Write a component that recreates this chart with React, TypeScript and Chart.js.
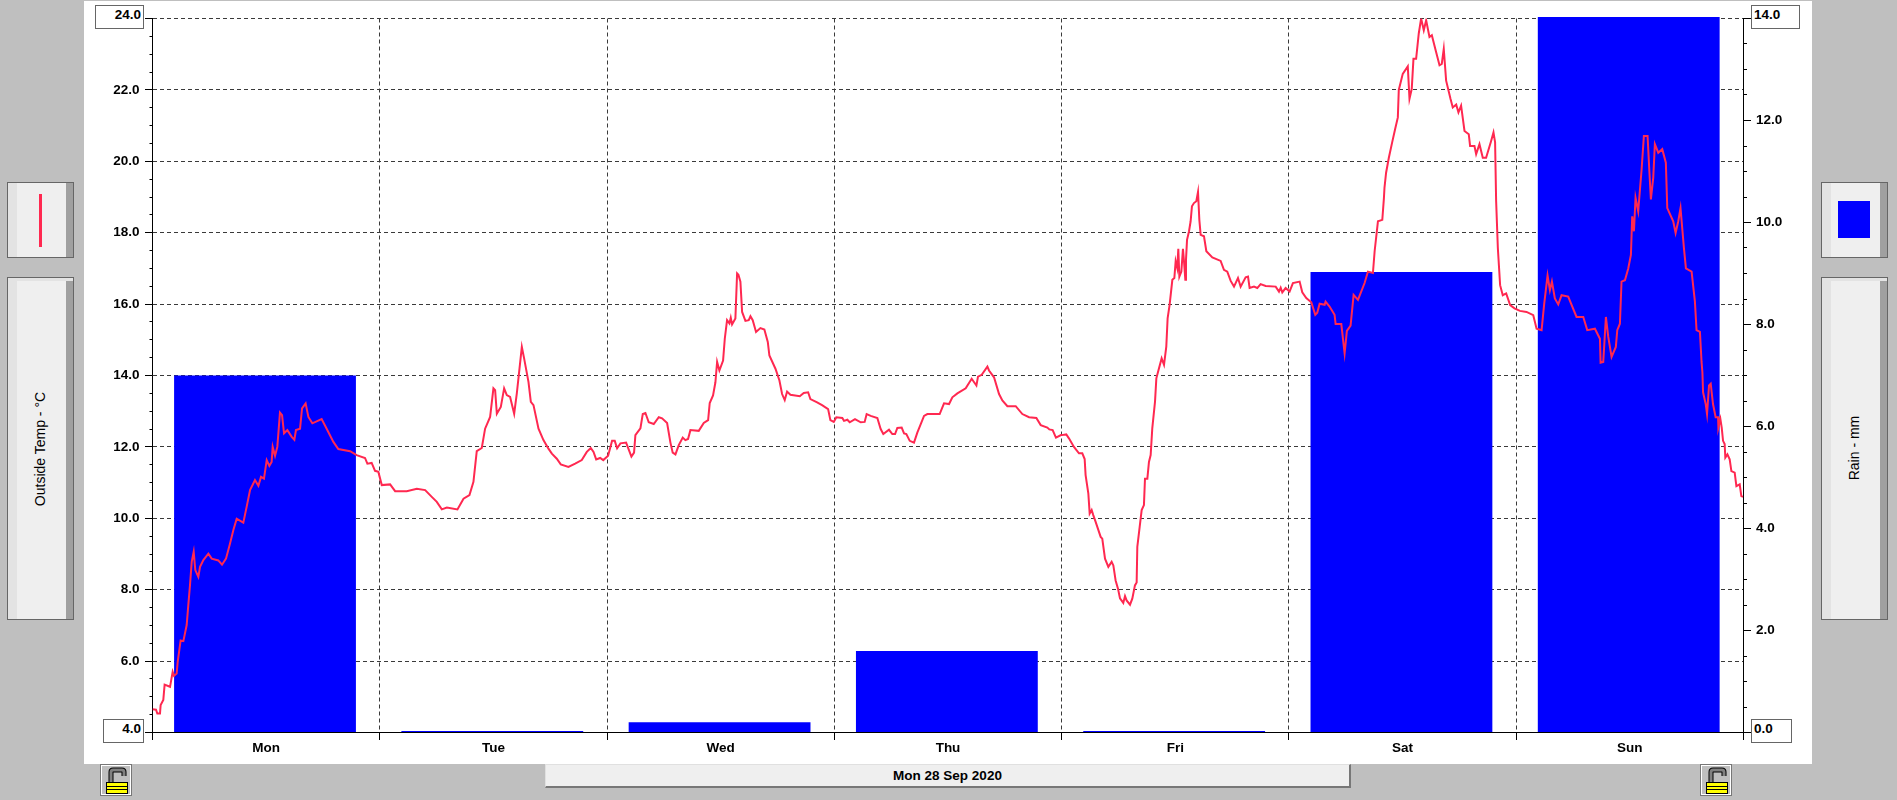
import React, { useEffect, useRef } from "react";
import { Chart, registerables } from "chart.js";

Chart.register(...registerables);

const dayLabels = ["Mon", "Tue", "Wed", "Thu", "Fri", "Sat", "Sun"];
const dateLabel = "Mon 28 Sep 2020";
const tempAxisTitle = "Outside Temp - °C";
const rainAxisTitle = "Rain - mm";

const tempMin = 4;
const tempMax = 24;
const rainMin = 0;
const rainMax = 14;

// Rain total per day, mm, and where each day's bar sits (in days from Monday 00:00)
const rainDaily = [7.0, 0.03, 0.2, 1.6, 0.03, 9.03, 14.03];
const rainDayPositions = [0.495, 1.495, 2.495, 3.495, 4.495, 5.495, 6.495];

// Outside temperature per day: [hour of day, °C]
const monTemp = [[0,4.65],[.37,4.64],[.51,4.53],[.79,4.53],[.86,4.77],[1.14,4.91],[1.28,5.34],[1.85,5.28],[2.13,5.7],[2.27,5.59],[2.55,5.65],[2.66,5.98],[2.97,6.58],[3.26,6.56],[3.61,7.01],[3.78,7.57],[3.96,8.13],[4.14,8.78],[4.35,9.06],[4.52,8.55],[4.84,8.36],[5.02,8.64],[5.37,8.83],[5.9,9.01],[6.25,8.87],[6.95,8.82],[7.34,8.7],[7.76,8.87],[8.18,9.29],[8.54,9.67],[8.89,9.99],[9.59,9.88],[9.94,10.32],[10.3,10.79],[10.82,11.07],[11.18,10.91],[11.46,11.16],[11.77,11.11],[12.06,11.63],[12.34,11.47],[12.58,11.58],[12.69,12.0],[12.94,11.75],[13.18,12.0],[13.46,12.96],[13.68,12.89],[13.89,12.38],[14.24,12.47],[14.7,12.28],[14.98,12.2],[15.15,12.47],[15.58,12.51],[15.79,13.08],[16.17,13.22],[16.46,12.84],[16.88,12.66],[17.86,12.78],[18.39,12.51],[19.1,12.14],[19.62,11.94],[20.86,11.88],[21.56,11.77],[22.44,11.69],[22.69,11.53],[23.14,11.55],[23.5,11.33],[23.85,11.3]];
const tueTemp = [[.21,10.93],[1.09,10.95],[1.62,10.76],[2.85,10.76],[3.91,10.83],[4.79,10.79],[5.49,10.6],[6.02,10.46],[6.55,10.25],[7.08,10.3],[8.2,10.25],[8.84,10.55],[9.47,10.65],[9.89,11.02],[10.24,11.88],[10.77,11.97],[11.12,12.51],[11.65,12.84],[12.0,13.64],[12.18,13.59],[12.36,12.93],[12.78,13.12],[13.13,13.64],[13.41,13.45],[13.76,13.4],[14.19,12.93],[14.47,13.5],[15.0,14.8],[15.24,14.48],[15.7,13.82],[15.95,13.26],[16.23,13.17],[16.76,12.51],[17.28,12.19],[17.81,11.95],[18.17,11.81],[18.69,11.67],[19.11,11.51],[19.92,11.44],[20.63,11.53],[21.33,11.63],[21.86,11.86],[22.28,11.97],[22.57,11.86],[22.85,11.65],[23.27,11.69],[23.6,11.63]];
const wedTemp = [[.11,11.75],[.53,12.17],[.81,12.17],[1.06,11.96],[1.41,12.1],[2.01,12.12],[2.57,11.73],[2.85,11.84],[2.99,12.33],[3.52,12.52],[3.77,12.92],[4.05,12.95],[4.4,12.69],[4.93,12.64],[5.46,12.83],[5.81,12.8],[6.34,12.67],[6.69,12.12],[6.93,11.84],[7.22,11.79],[7.57,12.05],[7.99,12.26],[8.27,12.19],[8.55,12.22],[8.8,12.47],[9.68,12.45],[10.21,12.67],[10.67,12.75],[10.84,13.23],[11.19,13.44],[11.44,13.81],[11.62,14.38],[11.86,14.14],[12.25,14.42],[12.43,15.03],[12.67,15.55],[12.92,15.46],[13.06,15.62],[13.2,15.43],[13.55,15.6],[13.73,16.86],[13.87,16.82],[14.08,16.63],[14.26,15.78],[14.61,15.53],[14.96,15.55],[15.14,15.66],[15.38,15.55],[15.73,15.22],[16.19,15.33],[16.61,15.29],[16.97,14.94],[17.14,14.56],[17.78,14.19],[18.2,13.86],[18.48,13.48],[18.76,13.31],[19.01,13.55],[19.36,13.46],[20.35,13.42],[20.77,13.51],[21.23,13.53],[21.47,13.34],[22.18,13.25],[22.7,13.17],[23.34,13.06],[23.58,12.75],[23.94,12.7]];
const thuTemp = [[.21,12.83],[.84,12.81],[1.02,12.73],[1.37,12.76],[1.62,12.69],[2.18,12.78],[2.78,12.69],[3.2,12.7],[3.41,12.92],[3.84,12.87],[4.54,12.81],[4.89,12.5],[5.17,12.36],[5.77,12.48],[6.12,12.36],[6.41,12.36],[6.65,12.53],[7.11,12.54],[7.36,12.38],[7.6,12.36],[7.96,12.17],[8.41,12.12],[8.76,12.4],[9.47,12.87],[9.82,12.92],[11.12,12.92],[11.58,13.22],[12.11,13.2],[12.46,13.39],[12.99,13.5],[13.87,13.64],[14.5,13.91],[15.0,13.72],[15.17,13.97],[15.56,14.02],[16.16,14.25],[16.33,14.14],[16.86,13.95],[17.39,13.48],[17.74,13.3],[18.27,13.14],[19.15,13.14],[19.85,12.92],[20.56,12.83],[21.33,12.81],[21.79,12.61],[22.49,12.54],[22.7,12.49],[23.05,12.47],[23.4,12.26],[23.93,12.33]];
const friTemp = [[0,12.33],[.49,12.35],[.77,12.24],[1.3,12.0],[1.83,11.82],[2.18,11.82],[2.43,11.66],[2.53,11.21],[2.82,10.69],[2.96,10.13],[3.17,10.23],[3.34,10.09],[3.59,9.9],[4.12,9.48],[4.29,9.43],[4.58,8.87],[4.93,8.64],[5.28,8.78],[5.46,8.68],[5.7,8.26],[5.95,8.03],[6.16,7.76],[6.51,7.63],[6.69,7.82],[6.86,7.7],[7.22,7.58],[7.46,7.75],[7.74,8.12],[7.92,8.2],[7.99,9.2],[8.24,9.76],[8.45,10.23],[8.69,10.37],[8.8,11.11],[9.05,11.11],[9.22,11.58],[9.4,11.77],[9.57,12.52],[9.86,13.27],[10.0,13.92],[10.28,14.2],[10.56,14.48],[10.81,14.3],[11.05,14.81],[11.19,15.6],[11.4,15.98],[11.69,16.68],[11.9,16.73],[12.04,17.2],[12.21,17.01],[12.32,17.55],[12.43,16.77],[12.64,16.91],[12.81,17.55],[12.92,17.2],[13.06,16.68],[13.13,17.24],[13.24,17.8],[13.45,18.04],[13.62,18.32],[13.76,18.74],[13.97,18.83],[14.22,18.88],[14.4,19.14],[14.54,18.36],[14.68,17.94],[15.03,17.9],[15.28,17.48],[15.91,17.31],[16.79,17.21],[17.14,16.96],[17.49,16.91],[17.85,16.65],[18.2,16.49],[18.62,16.73],[18.9,16.49],[19.43,16.75],[19.68,16.77],[19.85,16.45],[20.31,16.49],[20.66,16.45],[21.01,16.56],[21.54,16.51],[22.6,16.49],[22.95,16.35],[23.13,16.46],[23.3,16.33],[23.65,16.45]];
const satTemp = [[.07,16.35],[.42,16.59],[1.13,16.63],[1.41,16.33],[1.83,16.17],[2.36,16.05],[2.78,15.7],[2.99,15.76],[3.24,16.01],[3.77,15.98],[3.87,16.07],[4.29,15.93],[4.82,15.7],[4.93,15.44],[5.53,15.44],[5.88,14.62],[6.12,15.25],[6.51,15.4],[6.83,16.26],[7.29,16.12],[7.57,16.31],[7.99,16.59],[8.34,16.91],[8.87,16.87],[9.05,17.48],[9.4,18.32],[9.86,18.36],[10.03,18.97],[10.09,19.26],[10.26,19.68],[10.55,20.1],[10.9,20.53],[11.21,20.9],[11.5,21.23],[11.6,22.0],[12.02,22.45],[12.55,22.66],[12.73,21.75],[12.97,22.03],[13.15,22.87],[13.43,22.87],[13.71,23.58],[13.96,24.0],[14.24,23.67],[14.49,23.95],[14.84,23.48],[15.09,23.53],[15.54,23.06],[15.9,22.69],[16.14,22.73],[16.35,23.15],[16.6,22.26],[17.06,21.75],[17.3,21.51],[17.66,21.59],[17.9,21.37],[18.18,21.56],[18.54,20.85],[18.99,20.76],[19.13,20.43],[19.59,20.43],[19.77,20.2],[20.12,20.48],[20.47,20.1],[20.82,20.1],[21.35,20.57],[21.6,20.81],[21.77,20.53],[21.88,18.88],[22.06,17.57],[22.3,16.53],[22.58,16.25],[22.94,16.3],[23.36,15.97],[23.82,15.88]];
const sunTemp = [[.39,15.81],[1.09,15.78],[1.8,15.69],[2.15,15.31],[2.68,15.27],[2.96,16.02],[3.31,16.8],[3.56,16.39],[3.77,16.63],[4.08,16.16],[4.44,15.99],[4.79,16.25],[5.49,16.21],[6.37,15.64],[7.08,15.64],[7.5,15.27],[8.31,15.31],[8.84,15.03],[8.91,14.36],[9.19,14.38],[9.47,15.64],[9.72,15.08],[10.07,14.52],[10.52,14.8],[10.67,15.27],[10.95,15.45],[11.12,16.63],[11.48,16.67],[11.83,17.0],[12.11,17.38],[12.25,18.46],[12.43,18.04],[12.6,18.98],[12.88,18.6],[13.24,19.77],[13.48,20.71],[13.87,20.71],[14.04,19.82],[14.22,18.93],[14.47,19.54],[14.64,20.48],[15.0,20.24],[15.42,20.34],[15.8,19.96],[15.95,18.69],[16.58,18.32],[16.83,17.99],[17.11,18.32],[17.35,18.69],[17.71,17.57],[17.92,17.0],[18.52,16.91],[18.87,16.07],[19.04,15.27],[19.4,15.22],[19.57,14.38],[19.66,14.09],[19.73,13.53],[20.01,13.2],[20.15,12.92],[20.36,13.72],[20.54,13.77],[20.64,13.53],[20.78,13.2],[21.06,12.83],[21.31,12.83],[21.35,12.54],[21.56,12.78],[21.7,12.54],[21.84,12.17],[22.01,12.08],[22.08,11.7],[22.3,11.79],[22.54,11.65],[22.72,11.32],[23.07,11.28],[23.25,10.9],[23.6,10.95],[23.77,10.62],[23.95,10.6]];

const weekTemps = [monTemp, tueTemp, wedTemp, thuTemp, friTemp, satTemp, sunTemp];

const TICK_FONT = { family: '"Liberation Sans", Arial, sans-serif', size: 13.5, weight: "bold" as const };
const RED = "#FF2850";
const BLUE = "#0000FF";
const GRID = "#3a3a3a";
const NONE = "rgba(0,0,0,0)";

const isEven = (v: number) => Math.abs(v % 2) < 1e-6;
const isWhole = (v: number) => Math.abs(v % 1) < 1e-6;

const clearPadding = (s: any) => {
  s.paddingTop = 0;
  s.paddingBottom = 0;
  s.paddingLeft = 0;
  s.paddingRight = 0;
};

const tickMarks = {
  id: "tickMarks",
  afterDraw(chart: any) {
    const { ctx, chartArea: a, scales } = chart;
    ctx.save();
    ctx.strokeStyle = "#000";
    ctx.lineWidth = 1;
    ctx.beginPath();
    for (const t of scales.y.ticks) {
      const p = Math.round(scales.y.getPixelForValue(t.value) - 0.5) + 0.5;
      ctx.moveTo(a.left, p);
      ctx.lineTo(a.left - (isEven(t.value) ? 7.5 : 3), p);
    }
    for (const t of scales.y2.ticks) {
      const p = Math.round(scales.y2.getPixelForValue(t.value) - 0.5) + 0.5;
      ctx.moveTo(a.right, p);
      ctx.lineTo(a.right + (isEven(t.value) ? 7.5 : 3.5), p);
    }
    for (const t of scales.x.ticks) {
      if (!isWhole(t.value)) continue;
      const p = Math.round(scales.x.getPixelForValue(t.value) - 0.5) + 0.5;
      ctx.moveTo(p, a.bottom);
      ctx.lineTo(p, a.bottom + 7.5);
    }
    ctx.stroke();
    ctx.restore();
  },
};

const Panel = ({ left, top, width, height, bands = true, children }: any) => (
  <div
    style={{
      position: "absolute",
      left,
      top,
      width,
      height,
      boxSizing: "border-box",
      border: "1px solid #666",
      background: "#EFEFEF",
      overflow: "hidden",
    }}
  >
    {bands && <div style={{ position: "absolute", left: 0, right: 0, top: 0, height: 3, background: "#E3E3E3" }} />}
    <div style={{ position: "absolute", left: 0, top: 0, bottom: 0, width: 9, background: "#E3E3E3" }} />
    <div style={{ position: "absolute", right: 0, top: bands ? 3 : 0, bottom: 0, width: 7, background: "#A0A0A0" }} />
    {children}
  </div>
);

const VerticalText = ({ cx, cy, text }: any) => (
  <div
    style={{
      position: "absolute",
      left: cx,
      top: cy,
      transform: "translate(-50%,-50%) rotate(-90deg)",
      font: '14px "Liberation Sans", Arial, sans-serif',
      color: "#000",
      whiteSpace: "nowrap",
    }}
  >
    {text}
  </div>
);

const ValueBox = ({ left, top, width, height, align, text }: any) => (
  <div
    style={{
      position: "absolute",
      left,
      top,
      width,
      height,
      boxSizing: "border-box",
      border: "1px solid #666",
      background: "#fff",
      font: 'bold 13.5px "Liberation Sans", Arial, sans-serif',
      color: "#000",
      lineHeight: "18px",
      textAlign: align,
      padding: "0 2px",
    }}
  >
    {text}
  </div>
);

const Lock = ({ left }: any) => (
  <svg
    width={32}
    height={32}
    viewBox="0 0 32 32"
    style={{ position: "absolute", left, top: 764 }}
    shapeRendering="crispEdges"
  >
    <rect x={0.5} y={0.5} width={31} height={31} fill="#BFBFBF" stroke="#777" />
    <rect x={1.5} y={1.5} width={29} height={29} fill="none" stroke="#fff" />
    <path d="M11 18 V8 Q11 6 13 6 H22 Q24 6 24 8 V12" fill="none" stroke="#000" strokeWidth={5} shapeRendering="auto" />
    <path d="M11 18 V8 Q11 6 13 6 H22 Q24 6 24 8 V12" fill="none" stroke="#808080" strokeWidth={3} shapeRendering="auto" />
    <rect x={6.5} y={18.5} width={21} height={11} fill="#FFFF00" stroke="#000" />
    <rect x={7} y={22} width={20} height={1} fill="#000" />
    <rect x={7} y={25} width={20} height={1} fill="#000" />
  </svg>
);

export default function App() {
  const ref = useRef<HTMLCanvasElement>(null);

  useEffect(() => {
    const tempPoints = weekTemps.flatMap((day, i) => day.map(([h, t]) => ({ x: i + h / 24, y: t })));
    const rainBars = rainDaily.map((v, i) => ({ x: rainDayPositions[i], y: v }));

    const chart = new Chart(ref.current as HTMLCanvasElement, {
      type: "bar",
      data: {
        datasets: [
          {
            type: "line",
            label: tempAxisTitle,
            data: tempPoints,
            yAxisID: "y",
            xAxisID: "x",
            borderColor: RED,
            borderWidth: 2,
            pointRadius: 0,
            tension: 0,
            order: 1,
          },
          {
            type: "bar",
            label: rainAxisTitle,
            data: rainBars,
            yAxisID: "y2",
            xAxisID: "x",
            backgroundColor: BLUE,
            borderWidth: 0,
            barPercentage: 1.6,
            categoryPercentage: 1,
            clip: false,
            order: 2,
          },
        ] as any,
      },
      options: {
        animation: false,
        responsive: false,
        devicePixelRatio: 1,
        events: [],
        layout: { autoPadding: false, padding: { top: 18.5, left: 0, right: 0, bottom: 0 } },
        plugins: { legend: { display: false }, tooltip: { enabled: false } },
        scales: {
          x: {
            type: "linear",
            offset: false,
            min: 0,
            max: 7,
            afterFit(s: any) {
              s.height = 67.5;
              clearPadding(s);
            },
            ticks: {
              stepSize: 0.5,
              autoSkip: false,
              maxRotation: 0,
              minRotation: 0,
              padding: 8,
              color: "#000",
              font: TICK_FONT,
              callback: (v: any) => (!isWhole(v) ? dayLabels[Math.floor(v)] : ""),
            },
            grid: {
              offset: false,
              drawTicks: false,
              lineWidth: 1,
              color: (c: any) => (c.tick && isWhole(c.tick.value) ? GRID : NONE),
            },
            border: { display: true, color: "#000", width: 1, dash: [4, 3], z: 1 },
          },
          y: {
            type: "linear",
            position: "left",
            min: tempMin,
            max: tempMax,
            afterFit(s: any) {
              s.width = 152.5;
              clearPadding(s);
            },
            ticks: {
              stepSize: 0.5,
              autoSkip: false,
              padding: 13,
              color: "#000",
              font: TICK_FONT,
              callback: (v: any) => (isEven(v) && v !== tempMin && v !== tempMax ? Number(v).toFixed(1) : ""),
            },
            grid: {
              drawTicks: false,
              lineWidth: 1,
              color: (c: any) => (c.tick && isEven(c.tick.value) ? GRID : NONE),
            },
            border: { display: true, color: "#000", width: 1, dash: [4, 3] },
          },
          y2: {
            type: "linear",
            position: "right",
            min: rainMin,
            max: rainMax,
            afterFit(s: any) {
              s.width = 153.5;
              clearPadding(s);
            },
            ticks: {
              stepSize: 0.5,
              autoSkip: false,
              padding: 12.5,
              color: "#000",
              font: TICK_FONT,
              callback: (v: any) => (isEven(v) && v !== rainMin && v !== rainMax ? Number(v).toFixed(1) : ""),
            },
            grid: { drawOnChartArea: false, drawTicks: false },
            border: { display: true, color: "#000", width: 1 },
          },
        },
      } as any,
      plugins: [tickMarks],
    } as any);
    return () => chart.destroy();
  }, []);

  return (
    <div
      style={{
        position: "absolute",
        left: 0,
        top: 0,
        width: 1897,
        height: 800,
        overflow: "hidden",
        background: "#BFBFBF",
      }}
    >
      <div style={{ position: "absolute", left: 84, top: 1, width: 1728, height: 763, background: "#fff" }} />
      <canvas
        ref={ref}
        width={1897}
        height={800}
        style={{ position: "absolute", left: 0, top: 0, width: 1897, height: 800 }}
      />

      <Panel left={7} top={182} width={67} height={76} bands={false}>
        <div style={{ position: "absolute", left: 31, top: 11, width: 3, height: 53, background: RED }} />
      </Panel>
      <Panel left={7} top={277} width={67} height={343} />
      <VerticalText cx={40} cy={449} text={tempAxisTitle} />

      <Panel left={1821} top={182} width={67} height={76} bands={false}>
        <div style={{ position: "absolute", left: 16, top: 18, width: 32, height: 37, background: BLUE }} />
      </Panel>
      <Panel left={1821} top={277} width={67} height={343} />
      <VerticalText cx={1854} cy={448} text={rainAxisTitle} />

      <ValueBox left={95} top={5} width={49} height={24} align="right" text={tempMax.toFixed(1)} />
      <ValueBox left={103} top={719} width={41} height={24} align="right" text={tempMin.toFixed(1)} />
      <ValueBox left={1751} top={5} width={49} height={24} align="left" text={rainMax.toFixed(1)} />
      <ValueBox left={1751} top={719} width={41} height={24} align="left" text={rainMin.toFixed(1)} />

      <div
        style={{
          position: "absolute",
          left: 545,
          top: 764,
          width: 806,
          height: 24,
          boxSizing: "border-box",
          background: "#EFEFEF",
          borderTop: "1px solid #E0E0E0",
          borderLeft: "1px solid #E0E0E0",
          borderBottom: "2px solid #777",
          borderRight: "2px solid #777",
          font: 'bold 13.5px "Liberation Sans", Arial, sans-serif',
          color: "#000",
          textAlign: "center",
          lineHeight: "22px",
        }}
      >
        {dateLabel}
      </div>

      <Lock left={100} />
      <Lock left={1700} />
    </div>
  );
}
